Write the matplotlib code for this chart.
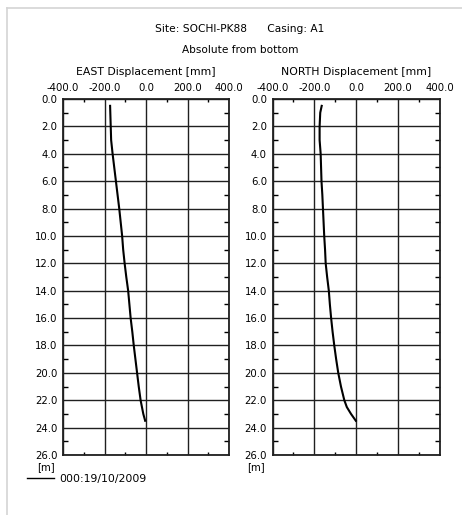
import matplotlib
matplotlib.use('Agg')
import matplotlib.pyplot as plt
from matplotlib.lines import Line2D
from matplotlib.ticker import FixedLocator, FuncFormatter

# readings, depth in metres from top, displacement in mm
depth_east = [0.5, 1, 2, 3, 4, 5, 6, 7, 8, 9, 10, 11, 12, 13, 14, 15, 16,
              17, 18, 19, 20, 21, 22, 23, 23.5]
east_mm = [-173, -172, -170, -168, -161, -153, -145, -137, -129, -122, -115,
           -110, -103, -95, -86, -80, -74, -66, -59, -51, -43, -35, -26, -13, -4]

depth_north = [0.5, 1, 2, 3, 4, 5, 6, 7, 8, 9, 10, 11, 12, 13, 14, 15, 16,
               17, 18, 19, 20, 21, 22, 22.5, 23, 23.5]
north_mm = [-165, -172, -175, -175, -170, -168, -166, -162, -159, -156, -153,
            -149, -146, -139, -131, -126, -120, -113, -105, -96, -86, -73,
            -57, -45, -25, -2]

x_ticks = [-400, -200, 0, 200, 400]
x_minor = [-300, -100, 100, 300]
y_ticks = list(range(0, 27, 2))
y_minor = list(range(1, 26, 2))

site_title = "Site: SOCHI-PK88      Casing: A1"
sub_title = "Absolute from bottom"
panel_titles = ["EAST Displacement [mm]", "NORTH Displacement [mm]"]
legend_label = "000:19/10/2009"

FS = 7.3
W, H = 462, 515
fig = plt.figure(figsize=(W / 100, H / 100), dpi=100)
fig.patch.set_facecolor('white')

# thin grey frame from the screenshot
fig.add_artist(Line2D([7 / W, 1], [1 - 8 / H, 1 - 8 / H], color='#d4d4d4', lw=1.2,
                      transform=fig.transFigure))
fig.add_artist(Line2D([7 / W, 7 / W], [0, 1 - 8 / H], color='#d4d4d4', lw=1.2,
                      transform=fig.transFigure))

fig.text(240 / W, 1 - 29 / H, site_title, ha='center', va='center', fontsize=7.7)
fig.text(240 / W, 1 - 50 / H, sub_title, ha='center', va='center', fontsize=7.6)

boxes = [(63, 229), (272.5, 440)]
top, bottom = 99, 455
series = [(depth_east, east_mm), (depth_north, north_mm)]

for (x0, x1), title, (dep, disp) in zip(boxes, panel_titles, series):
    ax = fig.add_axes([x0 / W, 1 - bottom / H, (x1 - x0) / W, (bottom - top) / H])
    ax.set_xlim(-400, 400)
    ax.set_ylim(26, 0)
    ax.plot(disp, dep, color='black', lw=1.5, zorder=3)

    ax.xaxis.set_major_locator(FixedLocator(x_ticks))
    ax.xaxis.set_minor_locator(FixedLocator(x_minor))
    ax.yaxis.set_major_locator(FixedLocator(y_ticks))
    ax.yaxis.set_minor_locator(FixedLocator(y_minor))
    ax.xaxis.set_major_formatter(FuncFormatter(lambda v, p: '%.1f' % v))
    ax.yaxis.set_major_formatter(FuncFormatter(lambda v, p: '%.1f' % v))
    ax.xaxis.tick_top()
    ax.tick_params(axis='x', which='major', length=0, labelsize=FS, pad=4.5)
    ax.tick_params(axis='y', which='major', length=0, labelsize=FS, pad=4)
    ax.tick_params(axis='x', which='minor', direction='in', top=True, bottom=True, length=2.5, width=1)
    ax.tick_params(axis='y', which='minor', direction='in', left=True, right=True, length=3.5, width=1)
    ax.grid(True, which='major', color='#202020', lw=1.0)
    for sp in ax.spines.values():
        sp.set_linewidth(1.3)
        sp.set_color('#202020')

    fig.text((x0 + x1) / 2 / W, 1 - 72 / H, title, ha='center', va='center', fontsize=7.8)
    ax.annotate('[m]', xy=(0, 0), xycoords='axes fraction', xytext=(-17, -12),
                textcoords='offset pixels', ha='center', va='center', fontsize=FS)

handle = Line2D([], [], color='black', lw=1.0)
fig.legend([handle], [legend_label], loc='center left', bbox_to_anchor=(27 / W, 1 - 479 / H),
           frameon=False, fontsize=7.8, handlelength=2.5, handletextpad=0.5,
           borderpad=0, borderaxespad=0)

fig.savefig('out.png', dpi=100)
